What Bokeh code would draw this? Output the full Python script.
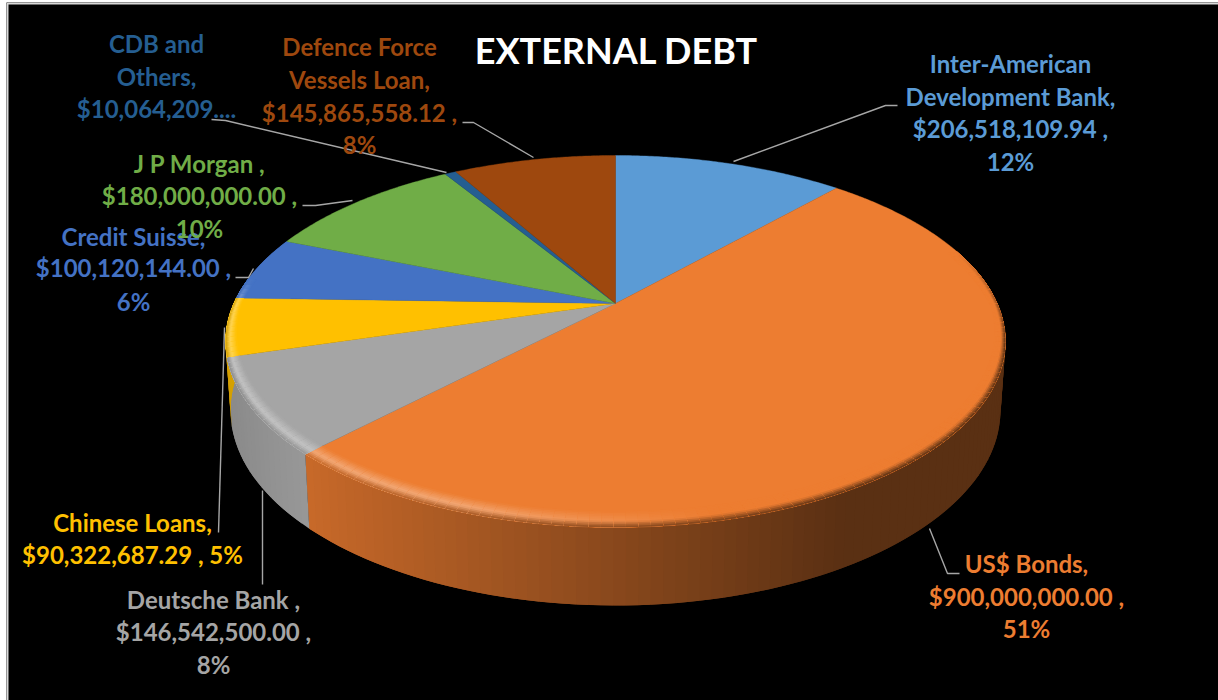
import numpy as np
from bokeh.core.properties import value
from bokeh.embed import file_html
from bokeh.models import ColumnDataSource
from bokeh.plotting import figure
from bokeh.resources import INLINE

# External debt by creditor, clockwise from twelve o'clock
creditors = ["Inter-American Development Bank", "US$ Bonds", "Deutsche Bank", "Chinese Loans",
             "Credit Suisse", "J P Morgan", "CDB and Others", "Defence Force Vessels Loan"]
amounts = [206518109.94, 900000000.00, 146542500.00, 90322687.29,
           100120144.00, 180000000.00, 10064209.00, 145865558.12]
colors = ["#5B9BD5", "#ED7D31", "#A5A5A5", "#FFC000", "#4472C4", "#70AD47", "#255E91", "#9E480E"]

# Data label lines, their centre x and the y of each line
label_lines = [
    ["Inter-American", "Development Bank,", "$206,518,109.94 ,", "12%"],
    ["US$ Bonds,", "$900,000,000.00 ,", "51%"],
    ["Deutsche Bank ,", "$146,542,500.00 ,", "8%"],
    ["Chinese Loans,", "$90,322,687.29 , 5%"],
    ["Credit Suisse,", "$100,120,144.00 ,", "6%"],
    ["J P Morgan ,", "$180,000,000.00 ,", "10%"],
    ["CDB and", "Others,", "$10,064,209...."],
    ["Defence Force", "Vessels Loan,", "$145,865,558.12 ,", "8%"],
]
label_x = [1010, 1026, 213, 132, 133, 199, 156, 359]
label_y = [
    [63, 96, 128, 161],
    [563, 596, 628],
    [599, 631, 664],
    [522, 554],
    [236, 267, 301],
    [163, 195, 228],
    [43, 76, 108],
    [46, 79, 112, 144],
]
# Leader polylines running from each label to its slice
leaders = [
    ([733, 885, 897], [161, 105, 105]),
    ([929, 947, 959], [528, 573, 573]),
    ([262, 262], [490, 584]),
    ([218, 224], [532, 327]),
    ([235, 248, 253], [277, 277, 268]),
    ([302, 315, 352], [205, 205, 200]),
    ([211, 225, 446], [119, 120, 172]),
    ([462, 473, 533], [122, 122, 157]),
]

# Perspective projection of the disc: the far side is foreshortened
CX = 615.0
K = 0.204
TOP_Y, TOP_A, TOP_B = 303.0, 178.2, 381.8
BASE_Y, BASE_A, BASE_B = 370.2, 186.9, 376.9


def project(theta_deg, r, cy, a, b):
    t = np.radians(theta_deg)
    u, v = r * np.sin(t), r * np.cos(t)
    w = 1 + K * v
    return CX + b * u / w, cy - a * v / w


def rgb(hex_color):
    return np.array([int(hex_color[i:i + 2], 16) for i in (1, 3, 5)], dtype=float)


def to_hex(c):
    c = np.clip(np.round(c), 0, 255).astype(int)
    return "#%02x%02x%02x" % tuple(c)


def side_shade(x, left_of_bonds):
    if left_of_bonds:
        return 0.92 - 0.001 * max(0.0, 310 - x)
    return max(0.38, 0.84 - 0.00085 * (x - 310))


share = np.array(amounts) / sum(amounts)
edges = np.concatenate([[0.0], np.cumsum(share) * 360.0])
BONDS_END = edges[2]

p = figure(width=1218, height=700, x_range=(6, 1218), y_range=(700, 2),
           output_backend="svg", toolbar_location=None,
           min_border_left=6, min_border_top=2, min_border_right=0, min_border_bottom=0,
           background_fill_color="#000000", border_fill_color="#ffffff")
p.axis.visible = False
p.grid.visible = False
p.outline_line_color = None

# Thin frame along the left and top of the chart area
p.line([7, 7, 1218], [700, 3, 3], line_color="#d9d9d9", line_width=2)

# Cylinder wall: narrow overlapping quads, each painted over the previous one's far edge
wall = dict(xs=[], ys=[], c=[])
for i in range(len(amounts)):
    lo, hi = max(edges[i], 78.0), min(edges[i + 1], 292.0)
    if lo >= hi:
        continue
    steps = max(2, int((hi - lo) / 1.5))
    grid = np.linspace(lo, hi, steps + 1)
    step = grid[1] - grid[0]
    base = rgb(colors[i])
    for a0 in grid[:-1]:
        a1 = min(a0 + 2 * step, hi)
        x0, y0 = project(a0, 1, TOP_Y, TOP_A, TOP_B)
        x1, y1 = project(a1, 1, TOP_Y, TOP_A, TOP_B)
        x2, y2 = project(a1, 1, BASE_Y, BASE_A, BASE_B)
        x3, y3 = project(a0, 1, BASE_Y, BASE_A, BASE_B)
        wall["xs"].append([x0, x1, x2, x3])
        wall["ys"].append([y0, y1, y2, y3])
        wall["c"].append(to_hex(base * side_shade(x0, a0 >= BONDS_END)))
p.patches("xs", "ys", fill_color="c", line_color=None, source=ColumnDataSource(wall))

# Top face: one wedge per creditor
face_xs, face_ys = [], []
for i in range(len(amounts)):
    grid = np.linspace(edges[i], edges[i + 1], max(3, int((edges[i + 1] - edges[i]) * 2)))
    x, y = project(grid, 1, TOP_Y, TOP_A, TOP_B)
    face_xs.append(np.concatenate([[CX], x]).tolist())
    face_ys.append(np.concatenate([[TOP_Y], y]).tolist())
p.patches(face_xs, face_ys, fill_color=colors, line_color=colors, line_width=0.4)

# Rounded rim along the near half of the top face
rim = dict(xs=[], ys=[], c=[])
BANDS = 10
for i in range(len(amounts)):
    lo, hi = max(edges[i], 72.0), min(edges[i + 1], 278.0)
    if lo >= hi:
        continue
    steps = max(2, int((hi - lo) / 1.5))
    grid = np.linspace(lo, hi, steps + 1)
    step = grid[1] - grid[0]
    face = rgb(colors[i])
    for a0 in grid[:-1]:
        a1 = min(a0 + 2 * step, hi)
        mid = a0 + step / 2
        cos_abs = abs(np.cos(np.radians(mid)))
        width = 0.02 + 0.038 * cos_abs
        fade = float(np.clip((mid - 72) / 30, 0, 1)) * float(np.clip((278 - mid) / 8, 0, 1))
        glow = 0.33 * float(np.clip((mid - 168) / 32, 0, 1))
        peak = face + (255 - face) * glow
        xm, _ = project(mid, 1, TOP_Y, TOP_A, TOP_B)
        outer = face * side_shade(xm, mid >= BONDS_END)
        for b in range(BANDS):
            r0 = 1 - width * (1 - b / BANDS)
            s = (b + 0.5) / BANDS
            shade = face + (peak - face) * (s / 0.6) if s < 0.6 else peak + (outer - peak) * ((s - 0.6) / 0.4)
            shade = face + (shade - face) * fade
            x0, y0 = project(a0, r0, TOP_Y, TOP_A, TOP_B)
            x1, y1 = project(a1, r0, TOP_Y, TOP_A, TOP_B)
            x2, y2 = project(a1, 1, TOP_Y, TOP_A, TOP_B)
            x3, y3 = project(a0, 1, TOP_Y, TOP_A, TOP_B)
            rim["xs"].append([x0, x1, x2, x3])
            rim["ys"].append([y0, y1, y2, y3])
            rim["c"].append(to_hex(shade))
p.patches("xs", "ys", fill_color="c", line_color=None, source=ColumnDataSource(rim))

# Leader lines
p.multi_line([l[0] for l in leaders], [l[1] for l in leaders], line_color="#a6a6a6", line_width=1.4)

# Data labels, one text per line
tx, ty, tt, tc = [], [], [], []
for i, lines in enumerate(label_lines):
    for line, y in zip(lines, label_y[i]):
        tx.append(label_x[i])
        ty.append(y)
        tt.append(line)
        tc.append(colors[i])
p.text(tx, ty, text=tt, text_color=tc, text_align="center", text_baseline="middle",
       text_font=value("Lato"), text_font_style="bold", text_font_size="24px")

p.text([616], [49], text=["EXTERNAL DEBT"], text_color="#ffffff", text_align="center",
       text_baseline="middle", text_font=value("Lato"), text_font_style="bold", text_font_size="36px")

open("out.html", "w").write(file_html(p, INLINE))
